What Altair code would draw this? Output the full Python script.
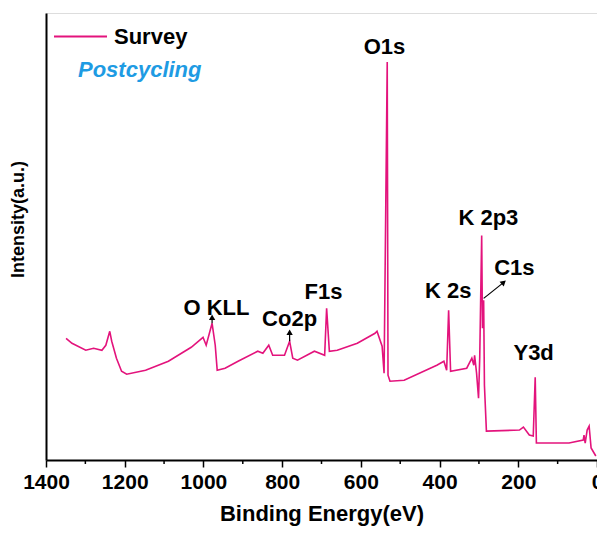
import altair as alt
import pandas as pd

PINK = "#E3137C"
BLUE = "#1E9BE3"
FONT = "Liberation Sans"

# Spectrum (binding energy in eV, intensity in a.u.)
energy = [1349, 1334, 1299, 1279, 1258, 1248, 1238, 1233, 1221, 1208, 1195, 1147, 1089,
          1031, 1001, 993, 978, 970, 965, 945, 912, 862, 849, 834, 824, 794, 781, 773,
          761, 718, 692, 687, 680, 660, 609, 564, 559, 546, 541, 533, 531, 526, 490,
          407, 389, 382, 377, 372, 331, 318, 313, 311, 306, 301, 298, 293, 291, 288,
          286, 281, 197, 187, 172, 162, 157, 154, 71, 35, 33, 30, 25, 20, 15, 3]
intensity = [122, 117, 110, 112, 110, 115, 129, 119, 102, 89, 86, 90, 99,
             113, 123, 115, 137, 115, 90, 92, 99, 109, 107, 115, 105, 105, 119, 102,
             100, 109, 105, 152, 109, 110, 117, 127, 129, 114, 87, 399, 85, 79, 80,
             95, 99, 90, 150, 89, 92, 102, 95, 105, 87, 62, 102, 225, 132, 160,
             75, 29, 30, 33, 25, 24, 83, 17, 17, 20, 25, 17, 30, 34, 12, 4]

# Peak labels
label_text = ["O1s", "K 2p3", "C1s", "K 2s", "F1s", "Co2p", "O KLL", "Y3d"]
label_energy = [540, 276, 210, 378, 695, 781, 967, 161]
label_intensity = [407, 236, 185, 162, 161, 134, 145, 100]

# Arrows (tail -> head) and head angles
arrow_e1 = [978, 781, 288]
arrow_i1 = [137, 119, 162]
arrow_e2 = [978, 781, 237]
arrow_i2 = [143, 128, 178]
arrow_angle = [0, 0, 49]

major_ticks = [0, 200, 400, 600, 800, 1000, 1200, 1400]
minor_ticks = [100, 300, 500, 700, 900, 1100, 1300]

spec = pd.DataFrame({"E": energy, "I": intensity, "series": "Survey"})
labels = pd.DataFrame({"E": label_energy, "I": label_intensity, "t": label_text})
arrows = pd.DataFrame({"E": arrow_e1, "I": arrow_i1, "E2": arrow_e2, "I2": arrow_i2,
                       "ang": arrow_angle})
minor = pd.DataFrame({"E": minor_ticks})

W = 551
H = 447
xscale = alt.Scale(domain=[1400, 0], nice=False, zero=False)
yscale = alt.Scale(domain=[0, 448], nice=False, zero=False)

xaxis = alt.Axis(values=major_ticks, format="d", title="Binding Energy(eV)", grid=False,
                 tickSize=7, tickWidth=1.5, tickColor="black", domainColor="black",
                 domainWidth=2, labelFontSize=21, labelFont=FONT, labelFontWeight="bold",
                 labelColor="black", labelPadding=4, titleFontSize=22, titleFont=FONT,
                 titleFontWeight="bold", titleColor="black", titlePadding=11,
                 labelFlush=False)
yaxis = alt.Axis(title="Intensity(a.u.)", grid=False, ticks=False, labels=False,
                 domainColor="black", domainWidth=2, titleFontSize=18, titleFont=FONT,
                 titleFontWeight="bold", titleColor="black", titleX=-28, titleY=206,
                 titleAngle=270, titleAlign="center", titleBaseline="middle")

line = alt.Chart(spec).mark_line(strokeWidth=1.6).encode(
    x=alt.X("E:Q", scale=xscale, axis=xaxis),
    y=alt.Y("I:Q", scale=yscale, axis=yaxis),
    color=alt.Color("series:N", scale=alt.Scale(domain=["Survey"], range=[PINK]),
                    legend=alt.Legend(orient="none", legendX=7, legendY=-4, title=None,
                                      symbolType="stroke", symbolSize=2809,
                                      symbolStrokeWidth=2, labelFontSize=22,
                                      labelFont=FONT, labelFontWeight="bold",
                                      labelColor="black", padding=0, labelOffset=6)),
)

text = alt.Chart(labels).mark_text(font=FONT, fontSize=22, fontWeight="bold",
                                   color="black", align="center",
                                   baseline="alphabetic").encode(
    x=alt.X("E:Q", scale=xscale), y=alt.Y("I:Q", scale=yscale), text="t:N")

stems = alt.Chart(arrows).mark_rule(color="black", strokeWidth=1.2).encode(
    x=alt.X("E:Q", scale=xscale), y=alt.Y("I:Q", scale=yscale),
    x2="E2:Q", y2="I2:Q")

heads = alt.Chart(arrows).mark_point(shape="triangle-up", filled=True, color="black",
                                     size=40, opacity=1).encode(
    x=alt.X("E2:Q", scale=xscale), y=alt.Y("I2:Q", scale=yscale),
    angle=alt.Angle("ang:Q", scale=None))

minor_rules = alt.Chart(minor).mark_rule(color="black", strokeWidth=1.5).encode(
    x=alt.X("E:Q", scale=xscale),
    y=alt.value(H), y2=alt.value(H + 4))

post = alt.Chart(pd.DataFrame({"t": ["Postcycling"]})).mark_text(
    font=FONT, fontSize=22, fontWeight="bold", fontStyle="italic", color=BLUE,
    align="left", baseline="alphabetic").encode(
    x=alt.value(32), y=alt.value(64), text="t:N")

chart = alt.layer(line, stems, heads, text, minor_rules, post).properties(
    width=W, height=H,
    autosize=alt.AutoSizeParams(type="none"),
    padding={"left": 38, "top": 5, "right": 0, "bottom": 70},
).configure_view(stroke="black", strokeWidth=2).configure(background="white")

chart.save("out.html", embed_options={"renderer": "svg", "actions": False})
